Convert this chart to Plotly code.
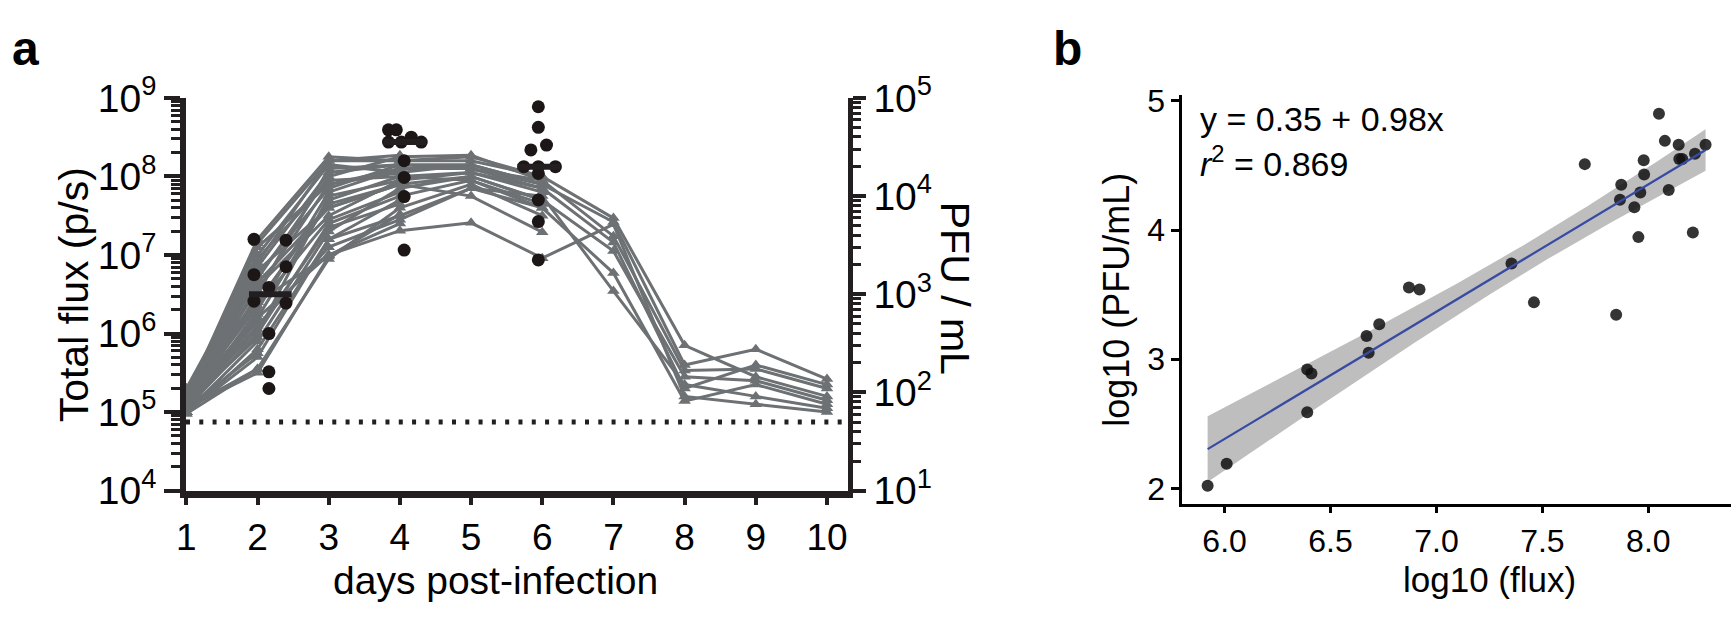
import numpy as np
import plotly.graph_objects as go

FONT = "Liberation Sans, Arial, Helvetica, sans-serif"
INK = "#231f20"
GRAY = "#6d7174"
W, H = 1731, 623

# ---------------- panel a data ----------------
days = [1, 2, 3, 4, 5, 6, 7, 8, 9, 10]
# log10 total flux (p/s) per mouse
flux_log_days1to10 = [
    [5.10, 6.90, 8.20, 8.20, 8.25, 8.00, 7.47, 5.85, 5.45, 5.20],
    [5.05, 6.50, 8.10, 8.15, 8.15, 7.90, 7.42, 5.60, 5.80, 5.42],
    [5.15, 7.10, 7.90, 8.10, 8.10, 7.95, 7.24, 5.53, 5.55, 5.30],
    [5.00, 6.20, 7.70, 8.00, 8.05, 7.85, 7.16, 5.30, 5.60, 5.35],
    [5.20, 6.80, 7.60, 7.90, 8.00, 7.70, 7.05, 5.45, 5.40, 5.15],
    [5.05, 6.00, 7.40, 7.75, 7.95, 7.60, 6.77, 5.14, 5.35, 5.10],
    [4.98, 5.80, 7.20, 7.50, 7.85, 7.75, 6.54, 5.35, 5.20, 5.05],
    [5.10, 6.40, 7.00, 7.31, 7.41, 6.96, 7.39, 5.20, 5.10, 5.00],
]
flux_log_days1to6 = [
    [5.20, 7.20, 8.25, 8.20, 8.20, 8.00],
    [5.10, 6.70, 8.00, 8.25, 8.27, 7.95],
    [5.25, 7.00, 8.15, 8.05, 8.15, 7.90],
    [5.05, 6.30, 7.80, 8.10, 8.10, 7.85],
    [5.15, 6.60, 7.50, 7.95, 8.05, 7.80],
    [5.00, 5.90, 7.30, 7.85, 8.00, 7.70],
    [5.30, 6.95, 7.95, 8.00, 7.95, 7.65],
    [5.10, 6.10, 7.10, 7.45, 7.85, 7.60],
    [5.05, 5.55, 6.95, 7.60, 7.90, 7.50],
    [5.20, 6.40, 7.65, 7.90, 7.75, 7.29],
    [5.15, 6.75, 7.85, 8.15, 8.10, 7.90],
]
flux_log_days1to4 = [
    [5.10, 7.15, 8.20, 8.27],
    [5.00, 6.85, 8.05, 8.15],
    [5.25, 6.55, 7.90, 8.05],
    [5.05, 6.00, 7.75, 7.95],
    [5.15, 6.35, 7.45, 7.80],
    [5.00, 5.70, 7.20, 7.70],
    [5.20, 6.20, 7.00, 7.40],
    [5.05, 5.50, 6.98, 7.52],
    [5.30, 6.65, 7.60, 7.90],
    [5.10, 6.05, 7.35, 7.65],
]
flux_log_days1to2 = [
    [5.15, 7.10], [5.05, 6.60], [5.20, 6.90], [5.00, 6.25], [5.10, 5.95],
    [5.25, 6.45], [5.05, 5.75], [5.15, 6.15], [4.98, 5.55], [5.10, 6.80],
]

# log10 PFU/mL (right axis), with horizontal placement of each dot
pfu_day2_x = [1.95, 2.40, 2.40, 1.95, 2.16, 1.95, 2.40, 2.16, 2.16, 2.16]
pfu_day2_log = [3.56, 3.55, 3.28, 3.20, 3.07, 2.93, 2.91, 2.60, 2.21, 2.04]
pfu_day4_x = [3.84, 3.95, 3.84, 4.02, 4.16, 4.30, 4.06, 4.06, 4.06, 4.06]
pfu_day4_log = [4.675, 4.675, 4.55, 4.55, 4.60, 4.55, 4.36, 4.19, 3.995, 3.45]
pfu_day6_x = [5.945, 5.945, 6.06, 5.84, 5.74, 5.945, 6.185, 5.945, 5.945, 5.945, 5.945]
pfu_day6_log = [4.91, 4.70, 4.52, 4.47, 4.30, 4.30, 4.30, 4.23, 3.96, 3.74, 3.35]
median_bar_center = [2.18, 4.07, 5.95]
median_bar_halfwidth = 0.30
pfu_detection_limit = 50

flux_ticks = [1e4, 1e5, 1e6, 1e7, 1e8, 1e9]
flux_ticktext = ["10<sup>4</sup>", "10<sup>5</sup>", "10<sup>6</sup>", "10<sup>7</sup>",
                 "10<sup>8</sup>", "10<sup>9</sup>"]
pfu_ticks = [1e1, 1e2, 1e3, 1e4, 1e5]
pfu_ticktext = ["10<sup>1</sup>", "10<sup>2</sup>", "10<sup>3</sup>", "10<sup>4</sup>",
                "10<sup>5</sup>"]

# ---------------- panel b data ----------------
log_flux = [5.92, 6.01, 6.39, 6.39, 6.41, 6.67, 6.68, 6.73, 6.87, 6.92,
            7.354, 7.46, 7.70, 7.848, 7.872, 7.866, 7.934, 7.953, 7.962, 7.978,
            7.98, 8.05, 8.078, 8.096, 8.143, 8.146, 8.16, 8.21, 8.22, 8.27]
log_pfu = [2.02, 2.19, 2.59, 2.92, 2.89, 3.18, 3.05, 3.27, 3.555, 3.54,
           3.74, 3.44, 4.51, 3.345, 4.35, 4.234, 4.177, 3.945, 4.29, 4.54,
           4.43, 4.90, 4.69, 4.31, 4.66, 4.55, 4.55, 3.98, 4.59, 4.66]
b_xticks = [6.0, 6.5, 7.0, 7.5, 8.0]
b_yticks = [2, 3, 4, 5]


def px(x):
    return x / W


def py(y):
    return 1 - y / H


fig = go.Figure()

# gray flux lines
for group in (flux_log_days1to2, flux_log_days1to4, flux_log_days1to6, flux_log_days1to10):
    for mouse in group:
        fig.add_trace(go.Scatter(
            x=days[:len(mouse)], y=[10 ** v for v in mouse],
            mode="lines+markers", xaxis="x", yaxis="y",
            line=dict(color=GRAY, width=3),
            marker=dict(symbol="triangle-up", size=11, color=GRAY),
            cliponaxis=False, showlegend=False, hoverinfo="skip"))

# PFU dots (right axis)
for xs, ls in ((pfu_day2_x, pfu_day2_log), (pfu_day4_x, pfu_day4_log), (pfu_day6_x, pfu_day6_log)):
    fig.add_trace(go.Scatter(
        x=xs, y=[10 ** v for v in ls], mode="markers", xaxis="x", yaxis="y2",
        marker=dict(size=13, color="#1c1617"), showlegend=False, cliponaxis=False))

# median bars
for c, ls in zip(median_bar_center, (pfu_day2_log, pfu_day4_log, pfu_day6_log)):
    m = 10 ** float(np.median(ls))
    fig.add_trace(go.Scatter(
        x=[c - median_bar_halfwidth, c + median_bar_halfwidth], y=[m, m],
        mode="lines", xaxis="x", yaxis="y2", line=dict(color=INK, width=6),
        showlegend=False))

# detection limit
fig.add_shape(type="line", xref="x domain", yref="y2", x0=0, x1=1,
              y0=pfu_detection_limit, y1=pfu_detection_limit,
              line=dict(color=INK, width=5, dash="4px,9.3px"))

# ---------------- panel b traces ----------------
xb = np.array(log_flux)
yb = np.array(log_pfu)
n = len(xb)
slope, intercept = np.polyfit(xb, yb, 1)
resid = yb - (intercept + slope * xb)
s = np.sqrt(np.sum(resid ** 2) / (n - 2))
sxx = np.sum((xb - xb.mean()) ** 2)
t_crit = 2.048  # t(0.975, df=28)
xg = np.linspace(xb.min(), xb.max(), 80)
yg = intercept + slope * xg
se = s * np.sqrt(1 / n + (xg - xb.mean()) ** 2 / sxx)
fig.add_trace(go.Scatter(
    x=np.concatenate([xg, xg[::-1]]),
    y=np.concatenate([yg + t_crit * se, (yg - t_crit * se)[::-1]]),
    fill="toself", fillcolor="#bebebe", line=dict(width=0), mode="lines",
    xaxis="x2", yaxis="y3", showlegend=False, hoverinfo="skip"))
fig.add_trace(go.Scatter(
    x=xb, y=yb, mode="markers", xaxis="x2", yaxis="y3",
    marker=dict(size=12, color="rgba(17,17,17,0.85)"), showlegend=False))
fig.add_trace(go.Scatter(
    x=xg, y=yg, mode="lines", xaxis="x2", yaxis="y3",
    line=dict(color="#3a4aa3", width=2.2), showlegend=False))

axis_common = dict(showgrid=False, zeroline=False, showline=True, ticks="outside")
FA = 39   # panel a y tick size
FAX = 37  # panel a x tick size
FB = 32   # panel b tick size

fig.update_layout(
    width=W, height=H, margin=dict(l=0, r=0, t=0, b=0),
    paper_bgcolor="white", plot_bgcolor="white",
    font=dict(family=FONT, color="black"),
    xaxis=dict(**axis_common, domain=[px(177), px(842.5)], range=[0.995, 10.29],
               anchor="y", tickvals=days, ticklen=8, tickwidth=3.5,
               linewidth=6.5, linecolor=INK, tickcolor=INK,
               tickfont=dict(size=FAX, family=FONT)),
    yaxis=dict(**axis_common, domain=[py(503), py(76)], type="log", range=[4, 9],
               anchor="x", tickvals=flux_ticks, ticktext=flux_ticktext,
               ticklen=16, tickwidth=4, linewidth=5.5, linecolor=INK, tickcolor=INK,
               minor=dict(ticks="outside", ticklen=9, tickwidth=3, tickcolor=INK,
                          dtick="D1", showgrid=False),
               tickfont=dict(size=FA, family=FONT)),
    yaxis2=dict(**axis_common, overlaying="y", side="right", anchor="x", type="log",
                range=[1, 5], tickvals=pfu_ticks, ticktext=pfu_ticktext,
                ticklen=13, tickwidth=4, linewidth=5, linecolor=INK, tickcolor=INK,
                minor=dict(ticks="outside", ticklen=8, tickwidth=3, tickcolor=INK,
                           dtick="D1", showgrid=False),
                tickfont=dict(size=FA, family=FONT)),
    xaxis2=dict(**axis_common, domain=[px(1179), 1.0], range=[5.80, 8.39],
                anchor="y3", tickvals=b_xticks, tickformat=".1f", ticklen=6,
                tickwidth=2.5, linewidth=2.5, linecolor="black", tickcolor="black",
                tickfont=dict(size=FB, family=FONT)),
    yaxis3=dict(**axis_common, domain=[py(518), py(73)], range=[1.876, 5.044],
                anchor="x2", tickvals=b_yticks, ticklen=8, tickwidth=2.5,
                linewidth=2.5, linecolor="black", tickcolor="black",
                tickfont=dict(size=FB, family=FONT)),
)

ann = [
    dict(text="<b>a</b>", x=px(0), y=py(22), xanchor="left", font=dict(size=48)),
    dict(text="<b>b</b>", x=px(1047), y=py(22), xanchor="left", font=dict(size=48)),
    dict(text="Total flux (p/s)", x=px(64), y=py(290), textangle=-90, font=dict(size=41)),
    dict(text="PFU / mL", x=px(950), y=py(283), textangle=90, font=dict(size=41)),
    dict(text="days post-infection", x=px(488), y=py(601), font=dict(size=39)),
    dict(text="log10 (PFU/mL)", x=px(1113), y=py(296), textangle=-90, font=dict(size=36)),
    dict(text="log10 (flux)", x=px(1488), y=py(600), font=dict(size=35)),
    dict(text="y = 0.35 + 0.98x", x=px(1195), y=py(99), xanchor="left", font=dict(size=34)),
    dict(text="<i>r</i><sup>2</sup> = 0.869", x=px(1195), y=py(145), xanchor="left",
         font=dict(size=34)),
]
for a in ann:
    a.setdefault("xanchor", "center")
    fig.add_annotation(xref="paper", yref="paper", showarrow=False, yanchor="middle",
                       font_family=FONT, font_color="black", **a)

fig.write_html("out.html", config={"displayModeBar": False},
               post_script="document.body.style.margin='0px';")
